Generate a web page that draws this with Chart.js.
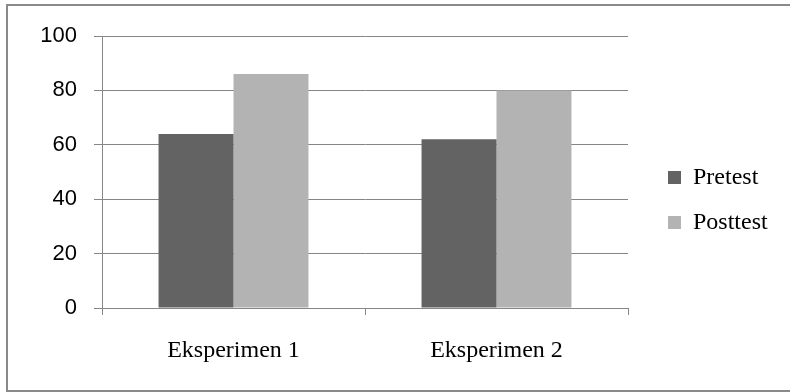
<!DOCTYPE html>
<html>
<head>
<meta charset="utf-8">
<script src="https://cdn.jsdelivr.net/npm/chart.js@4"></script>
<style>
html,body{margin:0;padding:0;background:#fff;}
#wrap{width:790px;height:392px;}
</style>
</head>
<body>
<div id="wrap"><canvas id="c" width="790" height="392"></canvas></div>
<script>
const categories = ['Eksperimen 1', 'Eksperimen 2'];
const seriesNames = ['Pretest', 'Posttest'];
const pretest = [64, 62];
const posttest = [86, 80];
const yTicks = [0, 20, 40, 60, 80, 100];

const gridColor = '#868686';

const framePlugin = {
  id: 'frame',
  beforeDraw(chart) {
    const ctx = chart.ctx;
    ctx.save();
    ctx.fillStyle = '#ffffff';
    ctx.fillRect(0, 0, chart.width, chart.height);
    ctx.strokeStyle = '#8a8a8a';
    ctx.lineWidth = 2;
    ctx.strokeRect(7, 5, 800, 386);
    ctx.restore();
  }
};

const legendFix = {
  id: 'legendFix',
  beforeLayout(chart) {
    const lg = chart.legend;
    if (lg && !lg._patched) {
      lg._patched = true;
      const origFit = lg.fit;
      lg.fit = function () {
        origFit.call(this);
        this.width = 162;
      };
    }
  },
  afterLayout(chart) {
    const lg = chart.legend;
    if (lg) {
      const dx = 19, dy = -14;
      lg.left += dx;
      lg.right += dx;
      lg.top += dy;
      lg.bottom += dy;
    }
  }
};

new Chart(document.getElementById('c'), {
  type: 'bar',
  data: {
    labels: categories,
    datasets: [
      { label: seriesNames[0], data: pretest, backgroundColor: '#636363', borderWidth: 0 },
      { label: seriesNames[1], data: posttest, backgroundColor: '#b3b3b3', borderWidth: 0 }
    ]
  },
  options: {
    responsive: false,
    animation: false,
    devicePixelRatio: 1,
    layout: { padding: { top: 36, left: 0, right: 0, bottom: 0 } },
    datasets: { bar: { categoryPercentage: 0.57, barPercentage: 1.0 } },
    plugins: {
      tooltip: { enabled: false },
      legend: {
        position: 'right',
        align: 'center',
        labels: {
          boxWidth: 13,
          boxHeight: 13,
          padding: 21,
          color: '#000',
          font: { family: 'Liberation Serif', size: 24 }
        }
      }
    },
    scales: {
      x: {
        offset: true,
        grid: {
          offset: true,
          drawOnChartArea: false,
          drawTicks: true,
          tickLength: 7,
          color: gridColor,
          lineWidth: 1
        },
        border: { display: true, color: gridColor, width: 1 },
        ticks: {
          color: '#000',
          padding: 21,
          font: { family: 'Liberation Serif', size: 24 }
        },
        afterFit(scale) { scale.height = 84; }
      },
      y: {
        min: 0,
        max: 100,
        afterBuildTicks(scale) { scale.ticks = yTicks.map(v => ({ value: v })); },
        grid: {
          color: gridColor,
          lineWidth: 1,
          drawTicks: true,
          tickLength: 8
        },
        border: { display: true, color: gridColor, width: 1 },
        ticks: {
          color: '#000',
          padding: 17,
          font: { family: 'Liberation Sans', size: 22 }
        },
        afterFit(scale) { scale.width = 102; }
      }
    }
  },
  plugins: [framePlugin, legendFix]
});
</script>
</body>
</html>
